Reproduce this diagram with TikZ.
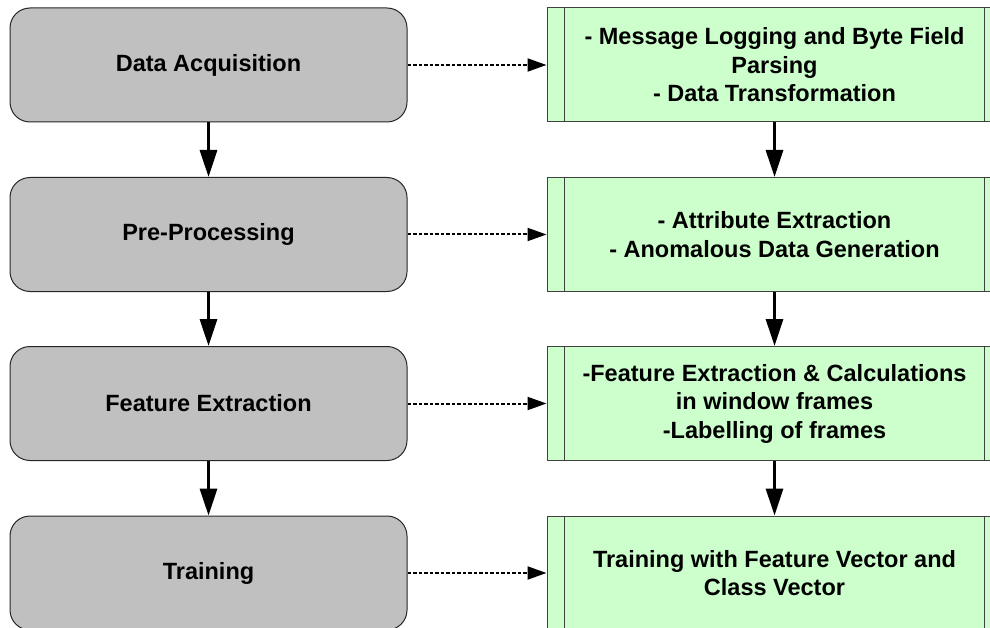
\documentclass[tikz,border=0pt]{standalone}
\usepackage{fontspec}
\setmainfont{Liberation Sans}
\usetikzlibrary{arrows.meta,calc}
\definecolor{stagegray}{HTML}{C0C0C0}
\definecolor{taskgreen}{HTML}{CCFFCC}
\tikzset{
  stage/.style={draw=black!85, fill=stagegray, rounded corners=20pt, minimum width=397pt, minimum height=114pt, line width=1pt},
  task/.style={draw=black!75, fill=taskgreen, minimum width=455pt, minimum height=114pt, line width=1pt, align=center},
  flow/.style={line width=3pt, -{Triangle[length=27pt,width=17pt]}},
  link/.style={line width=2pt, dash pattern=on 3.5pt off 2pt, -{Triangle[length=19pt,width=13pt]}},
}

\begin{document}
\begin{tikzpicture}[x=1pt, y=-1pt, every node/.style={font=\bfseries\fontsize{23.5}{28.5}\selectfont}]
      \useasboundingbox (0,0) rectangle (990,628);
      \clip (0,0) rectangle (990,628);

      \node[stage] at (208.5,65) (acq) {Data Acquisition};
      \node[stage] at (208.5,234.5) (pre) {Pre-Processing};
      \node[stage] at (208.5,403.5) (feat) {Feature Extraction};
      \node[stage] at (208.5,573) (train) {Training};

      \node[task] at (774.5,65) (acq_t) {- Message Logging and Byte Field\\Parsing\\- Data Transformation};
      \node[task] at (774.5,234.5) (pre_t) {- Attribute Extraction\\- Anomalous Data Generation};
      \node[task] at (774.5,403.5) (feat_t) {-Feature Extraction \& Calculations\\in window frames\\-Labelling of frames};
      \node[task] at (774.5,573) (train_t) {Training with Feature Vector and\\Class Vector};

      % side bars of the process boxes
      \foreach \t in {acq_t,pre_t,feat_t,train_t} {
        \draw[black!75, line width=1pt] ($(\t.north west)+(18,0)$) -- ($(\t.south west)+(18,0)$);
        \draw[black!75, line width=1pt] ($(\t.north east)+(-18,0)$) -- ($(\t.south east)+(-18,0)$);
      }

      \draw[flow] (acq) -- (pre);
      \draw[flow] (pre) -- (feat);
      \draw[flow] (feat) -- (train);
      \draw[flow] (acq_t) -- (pre_t);
      \draw[flow] (pre_t) -- (feat_t);
      \draw[flow] (feat_t) -- (train_t);

      \draw[link] (acq) -- (acq_t);
      \draw[link] (pre) -- (pre_t);
      \draw[link] (feat) -- (feat_t);
      \draw[link] (train) -- (train_t);
\end{tikzpicture}
\end{document}
